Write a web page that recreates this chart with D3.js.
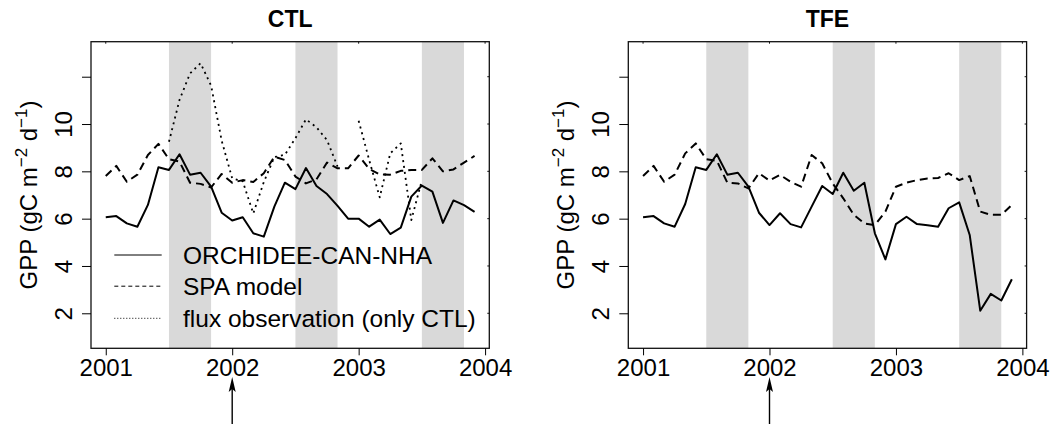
<!DOCTYPE html>
<html>
<head>
<meta charset="utf-8">
<script src="https://cdn.jsdelivr.net/npm/d3@7"></script>
<style>
  body { margin: 0; background: #fff; }
  svg { display: block; font-family: "Liberation Sans", Arial, Helvetica, sans-serif; }
</style>
</head>
<body>
<div id="chart"></div>
<script>
const xTicks = [2001, 2002, 2003, 2004];
const yTicks = [2, 4, 6, 8, 10, 12];
const yTickLabels = ["2", "4", "6", "8", "10", ""];
const yLimits = [1, 13];
const firstYear = 2001;          // monthly values, Jan 2001 .. Dec 2003
const shadeStart = [2001.5, 2002.5, 2003.5];
const shadeEnd = [2001.833, 2002.833, 2003.833];
const arrowYear = 2002;
const panelTitles = ["CTL", "TFE"];
const legendLabels = ["ORCHIDEE-CAN-NHA", "SPA model", "flux observation (only CTL)"];

const ctlOrchidee = [
    6.06, 6.11, 5.80, 5.66, 6.58, 8.17, 8.06, 8.72, 7.86, 7.94, 7.35, 6.25,
    5.92, 6.06, 5.38, 5.24, 6.51, 7.52, 7.25, 8.14, 7.38, 7.04, 6.54, 6.00,
    6.00, 5.66, 5.96, 5.35, 5.62, 6.93, 7.40, 7.14, 5.82, 6.77, 6.57, 6.29];
const ctlSpa = [
    7.80, 8.23, 7.56, 7.86, 8.69, 9.16, 8.51, 8.41, 7.52, 7.47, 7.32, 7.89,
    7.52, 7.63, 7.55, 7.92, 8.62, 8.48, 7.78, 7.49, 7.66, 8.37, 8.13, 8.13,
    8.67, 8.10, 7.87, 7.86, 8.02, 8.06, 8.06, 8.55, 8.00, 8.08, 8.37, 8.65];
const ctlFlux = [
    null, null, null, null, null, null, 9.25, 11.02, 12.14, 12.57, 11.62, 9.30,
    7.70, 7.58, 6.22, 7.55, 8.60, 8.70, 9.40, 10.20, 9.86, 9.32, 8.20, null,
    10.14, 8.48, 6.90, 8.76, 9.18, 5.94, 7.62, null, null, null, null, null];
const tfeOrchidee = [
    6.06, 6.11, 5.80, 5.66, 6.62, 8.17, 8.06, 8.72, 7.86, 7.94, 7.35, 6.25,
    5.73, 6.23, 5.77, 5.63, 6.51, 7.38, 7.04, 7.94, 7.18, 7.52, 5.38, 4.28,
    5.77, 6.08, 5.77, 5.72, 5.66, 6.44, 6.69, 5.31, 2.11, 2.82, 2.54, 3.44];
const tfeSpa = [
    7.80, 8.23, 7.56, 7.86, 8.76, 9.18, 8.51, 8.45, 7.52, 7.49, 7.28, 7.92,
    7.61, 7.85, 7.56, 7.35, 8.69, 8.34, 7.49, 6.86, 6.16, 5.80, 5.73, 6.30,
    7.35, 7.52, 7.63, 7.70, 7.72, 7.92, 7.63, 7.80, 6.30, 6.16, 6.16, 6.58];

const lineStyles = [
    { dash: null, width: 2, legendDash: null },
    { dash: "8,5", width: 2, legendDash: "4,3" },
    { dash: "2,4", width: 1.8, legendDash: "1,2" }
];

class GppPanel {
    constructor(svg, dims, title, series, showLegend) {
        this.dims = dims;
        this.series = series;
        const { left, top, width, height } = dims;

        this.g = svg.append("g")
            .attr("transform", `translate(${left}, ${top})`);

        const tLast = firstYear + (series[0].length - 1) / 12;
        const xPad = 0.04 * (tLast - firstYear);
        const yPad = 0.04 * (yLimits[1] - yLimits[0]);

        this.xScale = d3.scaleLinear()
            .domain([firstYear - xPad, tLast + xPad]).range([0, width]);
        this.yScale = d3.scaleLinear()
            .domain([yLimits[0] - yPad, yLimits[1] + yPad]).range([height, 0]);

        this.shadeGroup = this.g.append("g");
        this.lineGroup = this.g.append("g");
        this.frameGroup = this.g.append("g");

        this.drawFrame(title);
        this.render();
        if (showLegend) this.drawLegend();
    }

    drawFrame(title) {
        const { width, height } = this.dims;
        const f = this.frameGroup;

        f.append("rect")
            .attr("width", width).attr("height", height)
            .attr("fill", "none").attr("stroke", "#111").attr("stroke-width", 1.3);

        // small inward ticks on top and right sides
        f.selectAll(".topTick").data(xTicks).enter().append("line")
            .attr("x1", d => this.xScale(d)).attr("x2", d => this.xScale(d))
            .attr("y1", 0).attr("y2", 2)
            .attr("stroke", "#111");
        f.selectAll(".rightTick").data(yTicks).enter().append("line")
            .attr("x1", width - 2).attr("x2", width)
            .attr("y1", d => this.yScale(d)).attr("y2", d => this.yScale(d))
            .attr("stroke", "#111");

        const xAxisCall = d3.axisBottom(this.xScale)
            .tickValues(xTicks).tickSize(7).tickFormat(d3.format("d"));
        const xAxisGroup = f.append("g")
            .attr("transform", `translate(0, ${height})`)
            .call(xAxisCall);
        xAxisGroup.select(".domain").remove();
        xAxisGroup.selectAll("text")
            .attr("y", 27.7).attr("dy", 0)
            .attr("font-size", 24).attr("fill", "#000")
            .attr("font-family", "Liberation Sans, Arial, sans-serif");

        const yAxisCall = d3.axisLeft(this.yScale)
            .tickValues(yTicks).tickSize(9)
            .tickFormat((d, i) => yTickLabels[i]);
        const yAxisGroup = f.append("g").call(yAxisCall);
        yAxisGroup.select(".domain").remove();
        yAxisGroup.selectAll("text")
            .attr("x", null).attr("dy", null)
            .attr("text-anchor", "middle")
            .attr("transform", "translate(-19.3, 0) rotate(-90)")
            .attr("font-size", 24).attr("fill", "#000")
            .attr("font-family", "Liberation Sans, Arial, sans-serif");

        f.append("text")
            .attr("x", width / 2).attr("y", -14.4)
            .attr("text-anchor", "middle")
            .attr("font-size", 23).attr("font-weight", "bold")
            .text(title);

        const yLabel = f.append("text")
            .attr("transform", `translate(-54, ${height / 2}) rotate(-90)`)
            .attr("text-anchor", "middle")
            .attr("font-size", 24);
        yLabel.append("tspan").text("GPP (gC m");
        yLabel.append("tspan").attr("dy", -10).attr("font-size", 17).text("\u22122");
        yLabel.append("tspan").attr("dy", 10).text(" d");
        yLabel.append("tspan").attr("dy", -10).attr("font-size", 17).text("\u22121");
        yLabel.append("tspan").attr("dy", 10).text(")");

        // arrow below the axis marking the start of the exclusion
        const ax = this.xScale(arrowYear);
        const tipY = 377 - this.dims.top;
        f.append("line")
            .attr("x1", ax).attr("x2", ax)
            .attr("y1", 430 - this.dims.top).attr("y2", tipY + 8)
            .attr("stroke", "#000").attr("stroke-width", 1.4);
        f.append("path")
            .attr("d", `M${ax},${tipY} L${ax - 3.5},${tipY + 15} L${ax},${tipY + 12} L${ax + 3.5},${tipY + 15} Z`)
            .attr("fill", "#000");
    }

    render() {
        const bands = shadeStart.map((s, i) => [s, shadeEnd[i]]);
        this.shadeGroup.selectAll(".shade").data(bands).enter().append("rect")
            .attr("class", "shade")
            .attr("x", d => this.xScale(d[0]))
            .attr("width", d => this.xScale(d[1]) - this.xScale(d[0]))
            .attr("y", 0).attr("height", this.dims.height)
            .attr("fill", "#d9d9d9");

        const lineMapper = d3.line()
            .defined(d => d.v != null)
            .x(d => this.xScale(d.t))
            .y(d => this.yScale(d.v));

        const paths = this.series.map((values, k) => ({
            style: lineStyles[k],
            points: values.map((v, i) => ({ t: firstYear + i / 12, v: v }))
        }));

        this.lineGroup.selectAll(".line").data(paths).enter().append("path")
            .attr("class", "line")
            .attr("fill", "none")
            .attr("stroke", "#000")
            .attr("stroke-width", d => d.style.width)
            .attr("stroke-dasharray", d => d.style.dash)
            .attr("stroke-linejoin", "round")
            .attr("d", d => lineMapper(d.points));
    }

    drawLegend() {
        const rowY = [213.3, 244.5, 276.6];
        const legend = this.g.append("g");
        legendLabels.forEach((label, i) => {
            legend.append("line")
                .attr("x1", 23.3).attr("x2", 70.7)
                .attr("y1", rowY[i]).attr("y2", rowY[i])
                .attr("stroke", "#000").attr("stroke-width", 1)
                .attr("stroke-dasharray", lineStyles[i].legendDash);
            legend.append("text")
                .attr("x", 92).attr("y", rowY[i] + 8.6)
                .attr("font-size", 24.5)
                .text(label);
        });
    }
}

const svg = d3.select("#chart").append("svg")
    .attr("width", 1056).attr("height", 424)
    .attr("viewBox", [0, 0, 1056, 424]);

new GppPanel(svg, { left: 91, top: 41.7, width: 398.3, height: 306.6 },
    panelTitles[0], [ctlOrchidee, ctlSpa, ctlFlux], true);
new GppPanel(svg, { left: 628.3, top: 41.7, width: 398.3, height: 306.6 },
    panelTitles[1], [tfeOrchidee, tfeSpa], false);
</script>
</body>
</html>
